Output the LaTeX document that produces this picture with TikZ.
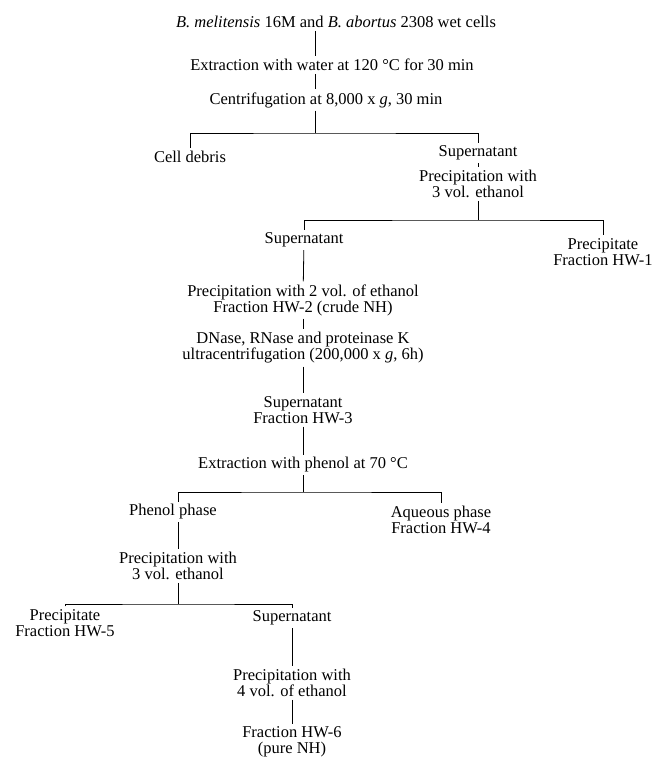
\documentclass[tikz,border=0pt]{standalone}
\usepackage{fontspec}
\setmainfont{Liberation Serif}
\usetikzlibrary{calc}
\tikzset{
  txt/.style={font=\fontsize{16.5}{16}\selectfont, align=center, inner sep=1pt, outer sep=2pt},
  ln/.style={line width=0.8pt}
}

\begin{document}
\begin{tikzpicture}[x=1pt, y=-1pt]
\useasboundingbox (0,0) rectangle (652,759);
\node[txt] (src) at (336,22) {\textit{B. melitensis} 16M and \textit{B. abortus} 2308 wet cells};
\node[txt] (hotw) at (332,65) {Extraction with water at 120 °C for 30 min};
\node[txt] (cent) at (326,100) {Centrifugation at 8,000 x \textit{g}, 30 min};
\node[txt] (debris) at (190,157) {Cell debris};
\node[txt] (sup1) at (478,153) {Supernatant};
\node[txt] (etoh1) at (478,184) {Precipitation with\\3 vol. ethanol};
\node[txt] (sup2) at (304,240) {Supernatant};
\node[txt] (hw1) at (603,252) {Precipitate\\Fraction HW-1};
\node[txt] (hw2) at (303,300) {Precipitation with 2 vol. of ethanol\\Fraction HW-2 (crude NH)};
\node[txt] (enz) at (303,348) {DNase, RNase and proteinase K\\ultracentrifugation (200,000 x \textit{g}, 6h)};
\node[txt] (hw3) at (303,410) {Supernatant\\Fraction HW-3};
\node[txt] (phen) at (303,465) {Extraction with phenol at 70 °C};
\node[txt] (phph) at (173,512) {Phenol phase};
\node[txt] (hw4) at (441,520) {Aqueous phase\\Fraction HW-4};
\node[txt] (etoh3) at (178,566) {Precipitation with\\3 vol. ethanol};
\node[txt] (hw5) at (65,623) {Precipitate\\Fraction HW-5};
\node[txt] (sup3) at (292,618) {Supernatant};
\node[txt] (etoh4) at (292,683) {Precipitation with\\4 vol. of ethanol};
\node[txt] (hw6) at (292,742) {Fraction HW-6\\(pure NH)};
\coordinate (j1) at (315,133);
\coordinate (j2) at (478,220);
\coordinate (j3) at (303,492);
\coordinate (j4) at (178,604);
\draw[ln] (src.south -| j1) -- (hotw.north -| j1); \draw[ln] (hotw.south -| j1) -- (cent.north -| j1); \draw[ln] (cent.south -| j1) -- (j1);
\draw[ln] (debris.north) |- (j1) -| (sup1.north); \draw[ln] (sup1) -- (etoh1); \draw[ln] (etoh1) -- (j2);
\draw[ln] (sup2.north) |- (j2) -| (hw1.north); \draw[ln] (sup2) -- (hw2); \draw[ln] (hw2) -- (enz); \draw[ln] (enz) -- (hw3);
\draw[ln] (hw3) -- (phen); \draw[ln] (phen) -- (j3);
\draw[ln] (phph.north -| etoh3) |- (j3) -| (hw4.north); \draw[ln] (phph.south -| etoh3) -- (etoh3.north); \draw[ln] (etoh3) -- (j4);
\draw[ln] (hw5.north) |- (j4) -| (sup3.north); \draw[ln] (sup3) -- (etoh4); \draw[ln] (etoh4) -- (hw6);
\end{tikzpicture}
\end{document}
